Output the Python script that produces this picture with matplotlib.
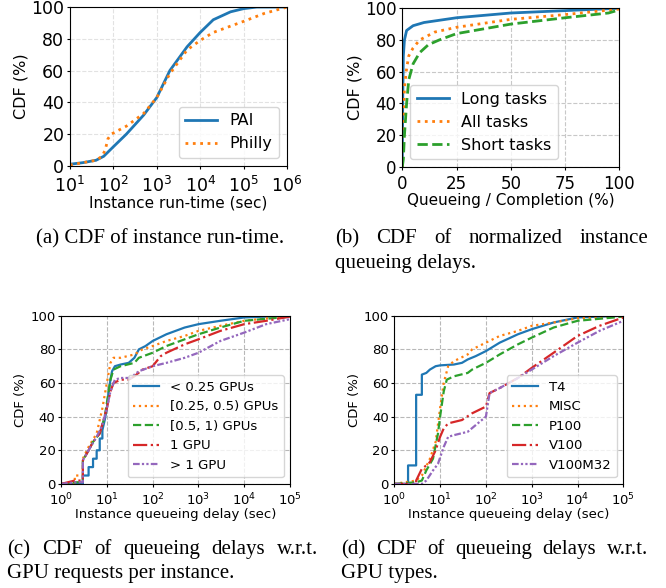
import matplotlib.pyplot as plt
import numpy as np

# (a) instance run-time
a_pai_x = [10, 20, 40, 60, 100, 200, 500, 1000, 2000, 5000, 1e4, 2e4, 5e4, 1e5, 2e5, 1e6]
a_pai_y = [1, 2, 3.5, 6, 12, 20, 32, 43, 60, 75, 84, 92, 97, 99, 100, 100]
a_phi_x = [10, 20, 40, 55, 65, 75, 90, 200, 500, 1000, 2000, 5000, 1e4, 2e4, 5e4, 1e5, 3e5, 1e6]
a_phi_y = [0.5, 2, 3.5, 6, 10, 17, 20, 25, 33, 43, 58, 73, 79, 84, 88, 91, 96, 100]

# (b) normalized queueing delay
b_long_x = [0, 0.2, 0.5, 1, 2, 5, 10, 25, 50, 75, 100]
b_long_y = [0, 40, 70, 80, 86, 89, 91, 94, 97, 98.5, 100]
b_all_x = [0, 0.5, 1, 2, 3, 5, 8, 15, 25, 50, 75, 100]
b_all_y = [0, 30, 50, 62, 70, 75, 80, 85, 88, 93, 96, 99.5]
b_short_x = [0, 0.5, 1, 2, 3, 5, 8, 12, 17, 25, 50, 75, 95, 100]
b_short_y = [0, 5, 20, 40, 55, 65, 72, 77, 80, 84, 90, 94, 97, 99]

# (c) queueing delay by GPU request
c_labels = ['< 0.25 GPUs', '[0.25, 0.5) GPUs', '[0.5, 1) GPUs', '1 GPU', '> 1 GPU']
c_x = [
    [1, 3, 3, 4, 4, 5, 5, 6, 6, 7, 7, 8, 8, 9, 10, 11, 12, 13, 15, 20, 30, 40, 50, 70, 100, 200, 500, 1000, 3000, 1e4, 1e5],
    [1, 2, 2, 3, 3, 4, 6, 8, 10, 12, 14, 20, 40, 60, 100, 200, 500, 1000, 3000, 1e4, 1e5],
    [1, 2, 3, 3, 4, 5, 7, 9, 10, 12, 14, 20, 40, 50, 100, 200, 500, 1000, 3000, 1e4, 1e5],
    [1, 2, 3, 3, 4, 5, 7, 10, 12, 14, 20, 30, 40, 60, 100, 150, 200, 500, 1000, 3000, 1e4, 3e4, 1e5],
    [1, 2, 3, 3, 4, 6, 8, 10, 12, 15, 20, 35, 40, 50, 100, 200, 500, 1000, 3000, 1e4, 3e4, 1e5],
]
c_y = [
    [0, 0, 5, 5, 10, 10, 15, 15, 20, 20, 27, 27, 32, 38, 45, 55, 62, 67, 70, 71, 72, 75, 80, 82, 85, 89, 93, 95, 97, 99, 100],
    [0, 0, 5, 5, 15, 22, 30, 45, 60, 72, 75, 75, 77, 80, 82, 85, 88, 91, 94, 97, 100],
    [0, 1, 1, 14, 20, 25, 30, 40, 48, 62, 68, 70, 72, 75, 78, 82, 86, 89, 93, 97, 99.5],
    [0, 2, 2, 14, 20, 25, 30, 45, 55, 60, 62, 62, 64, 68, 70, 76, 78, 83, 86, 91, 95, 97, 99.5],
    [0, 1, 1, 14, 20, 28, 35, 45, 55, 62, 63, 63, 65, 67, 70, 72, 75, 78, 85, 90, 95, 98],
]

# (d) queueing delay by GPU type
d_labels = ['T4', 'MISC', 'P100', 'V100', 'V100M32']
d_x = [
    [1, 2, 2, 3, 3, 4, 4, 5, 6, 8, 10, 20, 30, 40, 60, 100, 200, 500, 1000, 3000, 1e4, 1e5],
    [1, 3, 4, 6, 8, 10, 12, 15, 20, 40, 50, 100, 200, 500, 1000, 3000, 1e4, 1e5],
    [1, 3, 4, 5, 7, 9, 10, 12, 14, 20, 40, 50, 100, 200, 500, 1000, 3000, 1e4, 1e5],
    [1, 3, 3, 4, 5, 6, 8, 10, 12, 15, 30, 50, 100, 120, 200, 500, 1000, 3000, 1e4, 3e4, 1e5],
    [1, 4, 5, 7, 9, 12, 15, 20, 40, 60, 100, 120, 200, 500, 1000, 3000, 1e4, 3e4, 1e5],
]
d_y = [
    [0, 0, 11, 11, 53, 53, 65, 66, 68, 70, 70.5, 71, 72, 74, 76, 79, 84, 89, 92, 96, 99, 100],
    [0, 2, 5, 15, 25, 45, 60, 70, 73, 77, 80, 84, 88, 91, 94, 96, 98.5, 100],
    [0, 1, 2, 8, 15, 30, 40, 55, 62, 64, 66, 68, 72, 77, 83, 87, 93, 97, 99.5],
    [0, 0, 2, 9, 11, 13, 20, 28, 33, 36, 38, 42, 46, 54, 57, 63, 69, 78, 88, 94, 99],
    [0, 0, 2, 8, 12, 22, 28, 29, 31, 35, 40, 54, 57, 63, 68, 76, 84, 91, 97],
]

colors = ['#1f77b4', '#ff7f0e', '#2ca02c', '#d62728', '#9467bd']
styles = ['-', ':', '--', '-.', (0, (3, 1, 1, 1, 1, 1))]

fig = plt.figure(figsize=(6.66, 5.88), dpi=100)

def style_axes(ax, fs, grid_color='#c8c8c8', xpad=3):
    ax.set_ylim(0, 100)
    ax.set_yticks([0, 20, 40, 60, 80, 100])
    ax.grid(True, linestyle='--', color=grid_color, linewidth=0.8)
    ax.minorticks_off()
    ax.tick_params(labelsize=fs, length=2.5, pad=1.5)
    ax.tick_params(axis='x', pad=xpad)

# (a)
ax = fig.add_axes([0.105, 0.718, 0.326, 0.270])
ax.plot(a_pai_x, a_pai_y, color=colors[0], lw=2, label='PAI')
ax.plot(a_phi_x, a_phi_y, color=colors[1], lw=2, ls=':', label='Philly')
ax.set_xscale('log')
ax.set_xlim(10, 1e6)
ax.set_xticks([1e1, 1e2, 1e3, 1e4, 1e5, 1e6])
style_axes(ax, 12.5, '#e2e2e2', xpad=4.5)
for lab in ax.get_yticklabels():
    lab.set_verticalalignment('center_baseline')
ax.set_ylabel('CDF (%)', fontsize=11.5, labelpad=2)
ax.set_xlabel('Instance run-time (sec)', fontsize=11, labelpad=0)
ax.legend(loc='lower right', fontsize=11.5)

# (b)
ax = fig.add_axes([0.604, 0.716, 0.326, 0.270])
ax.plot(b_long_x, b_long_y, color=colors[0], lw=2, label='Long tasks')
ax.plot(b_all_x, b_all_y, color=colors[1], lw=2, ls=':', label='All tasks')
ax.plot(b_short_x, b_short_y, color=colors[2], lw=2, ls='--', label='Short tasks')
ax.set_xlim(0, 100)
ax.set_xticks([0, 25, 50, 75, 100])
style_axes(ax, 12)
ax.set_ylabel('CDF (%)', fontsize=11.5, labelpad=2)
ax.set_xlabel('Queueing / Completion (%)', fontsize=11, labelpad=0)
ax.legend(loc='lower left', fontsize=11.5)

# (c) and (d)
for left, xs, ys, labels in [(0.0916, c_x, c_y, c_labels), (0.592, d_x, d_y, d_labels)]:
    ax = fig.add_axes([left, 0.177, 0.344, 0.286])
    for i in range(5):
        ax.plot(xs[i], ys[i], color=colors[i], lw=1.6, ls=styles[i], label=labels[i])
    ax.set_xscale('log')
    ax.set_xlim(1, 1e5)
    ax.set_xticks([1e0, 1e1, 1e2, 1e3, 1e4, 1e5])
    style_axes(ax, 9.5, '#b8b8b8')
    ax.set_ylabel('CDF (%)', fontsize=9.5, labelpad=2)
    ax.set_xlabel('Instance queueing delay (sec)', fontsize=9.5, labelpad=0)
    ax.legend(loc='lower right', fontsize=9.5)

# captions (justified lines like the paper layout), y = baseline in pixels
serif = dict(family='Liberation Serif', fontsize=15, va='baseline')
renderer = fig.canvas.get_renderer()

def justify(text, x0, x1, y):
    words = text.split()
    objs = [fig.text(0, 1 - y / 588, w, **serif) for w in words]
    widths = [t.get_window_extent(renderer).width for t in objs]
    gap = (x1 - x0 - sum(widths)) / (len(words) - 1)
    x = x0
    for t, w in zip(objs, widths):
        t.set_x(x / 666)
        x += w + gap

fig.text(36 / 666, 1 - 243 / 588, '(a) CDF of instance run-time.', **serif)
justify('(b) CDF of normalized instance', 335, 648, 243)
fig.text(335 / 666, 1 - 268 / 588, 'queueing delays.', **serif)
justify('(c) CDF of queueing delays w.r.t.', 7, 318, 554)
fig.text(7 / 666, 1 - 578 / 588, 'GPU requests per instance.', **serif)
justify('(d) CDF of queueing delays w.r.t.', 341, 648, 554)
fig.text(341 / 666, 1 - 578 / 588, 'GPU types.', **serif)

fig.savefig('out.png', dpi=100)
